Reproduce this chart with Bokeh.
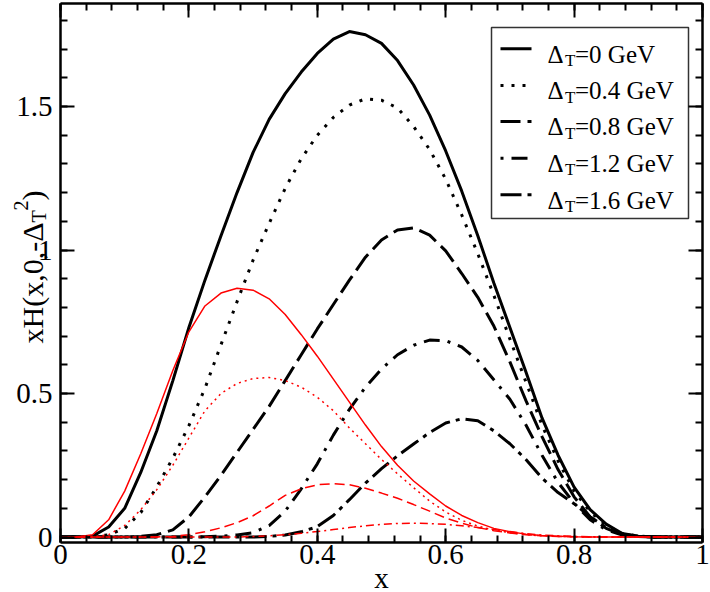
from bokeh.plotting import figure
from bokeh.models import LinearAxis, Range1d, Label, FixedTicker
from bokeh.embed import file_html
from bokeh.resources import INLINE

# ---------------- data ----------------
x_vals = [0.000, 0.025, 0.050, 0.075, 0.100, 0.125, 0.150, 0.175, 0.200, 0.225,
          0.250, 0.275, 0.300, 0.325, 0.350, 0.375, 0.400, 0.425, 0.450, 0.475,
          0.500, 0.525, 0.550, 0.575, 0.600, 0.625, 0.650, 0.675, 0.700, 0.725,
          0.750, 0.775, 0.800, 0.825, 0.850, 0.875, 0.900, 0.925, 0.950, 0.975, 1.000]

black_d00 = [0, 0, 0.003, 0.035, 0.10, 0.225, 0.37, 0.545, 0.73, 0.895,
             1.05, 1.20, 1.34, 1.455, 1.545, 1.62, 1.685, 1.735, 1.761, 1.75,
             1.72, 1.66, 1.575, 1.47, 1.345, 1.205, 1.05, 0.885, 0.73, 0.575,
             0.415, 0.285, 0.174, 0.095, 0.045, 0.012, 0.003, 0.001, 0, 0, 0]
black_d04 = [0, 0, 0, 0.008, 0.03, 0.085, 0.175, 0.275, 0.388, 0.518,
             0.67, 0.82, 0.965, 1.093, 1.215, 1.318, 1.40, 1.462, 1.505, 1.527,
             1.522, 1.495, 1.43, 1.35, 1.247, 1.122, 0.987, 0.842, 0.69, 0.54,
             0.39, 0.265, 0.16, 0.088, 0.04, 0.012, 0.003, 0, 0, 0, 0]
black_d08 = [0, 0, 0, 0, 0, 0.002, 0.008, 0.025, 0.07, 0.14,
             0.215, 0.295, 0.375, 0.455, 0.545, 0.635, 0.725, 0.81, 0.895, 0.975,
             1.035, 1.07, 1.077, 1.052, 0.997, 0.918, 0.835, 0.735, 0.61, 0.475,
             0.35, 0.235, 0.14, 0.07, 0.03, 0.008, 0.002, 0, 0, 0, 0]
black_d12 = [0, 0, 0, 0, 0, 0, 0, 0, 0, 0.001,
             0.003, 0.007, 0.015, 0.04, 0.09, 0.168, 0.255, 0.355, 0.445, 0.522,
             0.585, 0.635, 0.668, 0.686, 0.684, 0.662, 0.615, 0.548, 0.48, 0.39,
             0.285, 0.19, 0.118, 0.06, 0.025, 0.007, 0.002, 0, 0, 0, 0]
black_d16 = [0, 0, 0, 0, 0, 0, 0, 0, 0, 0,
             0, 0, 0, 0.002, 0.007, 0.018, 0.036, 0.075, 0.13, 0.188,
             0.238, 0.283, 0.324, 0.364, 0.397, 0.412, 0.405, 0.37, 0.325, 0.27,
             0.205, 0.155, 0.116, 0.07, 0.033, 0.01, 0.002, 0, 0, 0, 0]

red_d00 = [0, 0, 0.008, 0.06, 0.16, 0.29, 0.43, 0.58, 0.715, 0.805,
           0.85, 0.867, 0.86, 0.83, 0.775, 0.705, 0.63, 0.55, 0.47, 0.39,
           0.315, 0.25, 0.195, 0.15, 0.108, 0.075, 0.05, 0.03, 0.018, 0.01,
           0.005, 0.003, 0.001, 0, 0, 0, 0, 0, 0, 0, 0]
red_d04 = [0, 0, 0, 0.008, 0.04, 0.095, 0.165, 0.25, 0.345, 0.44,
           0.50, 0.535, 0.552, 0.556, 0.545, 0.522, 0.487, 0.44, 0.38, 0.325,
           0.27, 0.22, 0.172, 0.125, 0.087, 0.058, 0.038, 0.024, 0.015, 0.008,
           0.004, 0.002, 0.001, 0, 0, 0, 0, 0, 0, 0, 0]
red_d08 = [0, 0, 0, 0, 0, 0, 0, 0.002, 0.008, 0.018,
           0.032, 0.05, 0.074, 0.108, 0.145, 0.168, 0.182, 0.186, 0.182, 0.17,
           0.153, 0.135, 0.113, 0.09, 0.066, 0.048, 0.033, 0.022, 0.014, 0.008,
           0.004, 0.002, 0.001, 0, 0, 0, 0, 0, 0, 0, 0]
red_d12 = [0, 0, 0, 0, 0, 0, 0, 0, 0, 0,
           0, 0, 0.002, 0.004, 0.008, 0.013, 0.019, 0.026, 0.033, 0.039,
           0.044, 0.047, 0.048, 0.047, 0.044, 0.039, 0.033, 0.026, 0.019, 0.012,
           0.007, 0.004, 0.002, 0.001, 0, 0, 0, 0, 0, 0, 0]

legend_values = ["0", "0.4", "0.8", "1.2", "1.6"]
x_ticks = [0, 0.2, 0.4, 0.6, 0.8, 1.0]
x_tick_labels = ["0", "0.2", "0.4", "0.6", "0.8", "1"]
y_ticks = [0, 0.5, 1.0, 1.5]
y_tick_labels = ["0", "0.5", "1", "1.5"]

# ---------------- layout ----------------
W, H = 710, 592
# plotting box (data) and pixel mapping: px = PX0 + KX*x ; py = PY0 - KY*y
PX0, KX = 60.0, 642.0
PY0, KY = 536.5, 287.0
XMIN, XMAX = 0.0, 1.0
YMIN, YMAX = -0.019, 1.858
SERIF = "Liberation Serif"


def sx(px):  # page pixel -> data x
    return (px - PX0) / KX


def sy(py):  # page pixel -> data y
    return (PY0 - py) / KY


p = figure(width=W, height=H,
           x_range=Range1d(sx(0), sx(W)), y_range=Range1d(sy(H), sy(0)),
           output_backend="svg", toolbar_location=None,
           min_border_left=0, min_border_right=0, min_border_top=0, min_border_bottom=0)
p.title.visible = False
p.grid.visible = False
p.background_fill_color = "white"
p.border_fill_color = "white"
p.outline_line_color = None

x_minor = [round(i * 0.04, 2) for i in range(26)]
y_minor = [round(i * 0.1, 1) for i in range(19)]
xt = FixedTicker(ticks=x_ticks, minor_ticks=x_minor)
yt = FixedTicker(ticks=y_ticks, minor_ticks=y_minor)


def style_axis(ax, show_labels):
    ax.axis_line_color = "black"
    ax.axis_line_width = 2.5
    ax.major_tick_in = 14
    ax.major_tick_out = 0
    ax.minor_tick_in = 7
    ax.minor_tick_out = 0
    ax.major_tick_line_width = 2
    ax.minor_tick_line_width = 2
    ax.major_tick_line_color = "black"
    ax.minor_tick_line_color = "black"
    if show_labels:
        ax.major_label_text_font = SERIF
        ax.major_label_text_font_size = "29px"
        ax.major_label_text_color = "black"
    else:
        ax.major_label_text_font_size = "0px"
        ax.major_label_text_color = None
        ax.major_label_standoff = 0


xa = p.xaxis[0]
xa.ticker = xt
xa.fixed_location = YMIN
xa.bounds = (XMIN, XMAX)
xa.major_label_overrides = {float(v): s for v, s in zip(x_ticks, x_tick_labels)}
style_axis(xa, True)
xa.major_label_standoff = 3

ya = p.yaxis[0]
ya.ticker = yt
ya.fixed_location = XMIN
ya.bounds = (YMIN, YMAX)
ya.major_label_overrides = {float(v): s for v, s in zip(y_ticks, y_tick_labels)}
style_axis(ya, True)
ya.major_label_standoff = 8

top_ax = LinearAxis(ticker=xt, fixed_location=YMAX, bounds=(XMIN, XMAX))
style_axis(top_ax, False)
p.add_layout(top_ax, "above")
right_ax = LinearAxis(ticker=yt, fixed_location=XMAX, bounds=(YMIN, YMAX))
style_axis(right_ax, False)
p.add_layout(right_ax, "right")

# ---------------- curves ----------------
black_series = [black_d00, black_d04, black_d08, black_d12, black_d16]
black_dash = ["solid", "3 8", "20 7", "16 8 3 8", "21 6 4 6"]
for ys, d in zip(black_series, black_dash):
    p.line(x_vals, ys, line_color="black", line_width=3, line_dash=d)

red_series = [red_d00, red_d04, red_d08, red_d12]
red_dash = ["solid", "2 4", "10 5", "8 4 2 4"]
for ys, d in zip(red_series, red_dash):
    p.line(x_vals, ys, line_color="#ff0000", line_width=1.5, line_dash=d)

# ---------------- legend ----------------
LB_L, LB_R, LB_T, LB_B = 491, 688, 27, 218
p.quad(left=[sx(LB_L)], right=[sx(LB_R)], top=[sy(LB_T)], bottom=[sy(LB_B)],
       fill_color="white", line_color="#333333", line_width=1.5)
rows = [48.3, 85.0, 121.0, 157.7, 194.3]
sample_offsets = [0, 0, 0, 24, 0]
for row, d, off, v in zip(rows, black_dash, sample_offsets, legend_values):
    p.line([sx(500), sx(531)], [sy(row), sy(row)], line_color="black", line_width=3,
           line_dash=d, line_dash_offset=off)
    base = sy(row + 5.2)
    p.add_layout(Label(x=sx(547), y=base, text="Δ", text_font=SERIF, text_font_size="25px",
                       text_baseline="alphabetic", text_align="left", text_color="black"))
    p.add_layout(Label(x=sx(564.5), y=sy(row + 11.7), text="T", text_font=SERIF,
                       text_font_size="17px", text_baseline="alphabetic", text_align="left",
                       text_color="black"))
    p.add_layout(Label(x=sx(574.5), y=base, text="=" + v + " GeV", text_font=SERIF,
                       text_font_size="25px", text_baseline="alphabetic", text_align="left",
                       text_color="black"))

# ---------------- axis titles ----------------
p.add_layout(Label(x=sx(381), y=sy(577), text="x", text_font=SERIF, text_font_size="29px",
                   text_baseline="alphabetic", text_align="center", text_color="black"))

ANG = 1.5707963
tx0, tya = sx(32), sy(222)   # junction between "Δ" and its subscript
common = dict(angle=ANG, text_font=SERIF, text_baseline="alphabetic", text_color="black")
p.add_layout(Label(x=tx0, y=tya, text="xH(x,0,-Δ", text_font_size="30px",
                   text_align="right", **common))
p.add_layout(Label(x=tx0, y=tya, x_offset=6, text="T", text_font_size="20px",
                   text_align="left", **common))
p.add_layout(Label(x=tx0, y=tya, x_offset=-12, y_offset=12, text="2", text_font_size="20px",
                   text_align="left", **common))
p.add_layout(Label(x=tx0, y=tya, y_offset=22, text=")", text_font_size="30px",
                   text_align="left", **common))

open("out.html", "w").write(file_html(p, INLINE))
